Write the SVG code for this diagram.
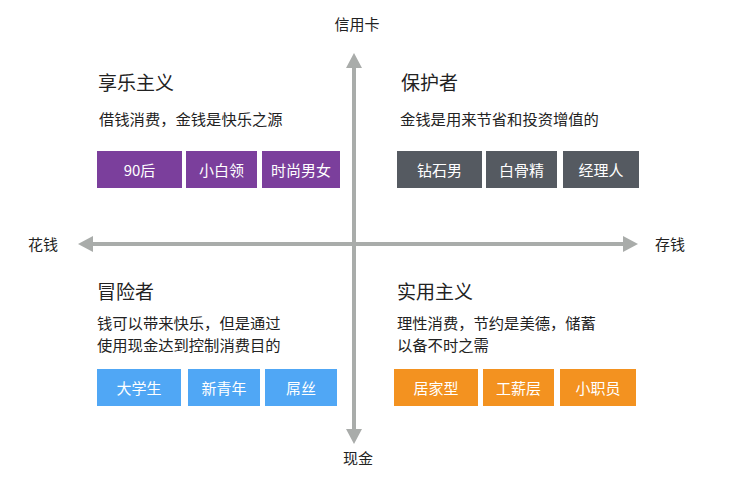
<svg xmlns="http://www.w3.org/2000/svg" width="733" height="487" viewBox="0 0 733 487">
<style>
text{font-family:"Noto Sans CJK SC","Noto Sans",sans-serif;fill:#222}
.ax{font-size:15px}
.t{font-size:19px}
.s{font-size:15.3px}
.b{font-size:15px;fill:#fff;text-anchor:middle;dominant-baseline:central}
.p{fill:#7b3f9c}.g{fill:#555a61}.bl{fill:#50a7f5}.o{fill:#f39220}
.line{stroke:#a9acaa;stroke-width:4;fill:none}
.hd{fill:#a9acaa}
</style>
<rect width="733" height="487" fill="#fff"/>
<g id="axes">
<line class="line" x1="90" y1="244" x2="625" y2="244"/>
<line class="line" x1="354" y1="65" x2="354" y2="432"/>
<polygon class="hd" points="78,244 93,236 93,252"/>
<polygon class="hd" points="638,244 623,236 623,252"/>
<polygon class="hd" points="354,53 346,68 362,68"/>
<polygon class="hd" points="354,444 346,429 362,429"/>
</g>
<g id="labels">
<text class="ax" x="357" y="30" text-anchor="middle">信用卡</text>
<text class="ax" x="358" y="464" text-anchor="middle">现金</text>
<text class="ax" x="28" y="250">花钱</text>
<text class="ax" x="655" y="250">存钱</text>
</g>
<g id="q1">
<text class="t" x="98" y="90">享乐主义</text>
<text class="s" x="99" y="125">借钱消费，金钱是快乐之源</text>
<rect class="p" x="97" y="151" width="85" height="37"/><text class="b" x="139.5" y="169.5">90后</text>
<rect class="p" x="186" y="151" width="71" height="37"/><text class="b" x="221.5" y="169.5">小白领</text>
<rect class="p" x="262" y="151" width="78" height="37"/><text class="b" x="301" y="169.5">时尚男女</text>
</g>
<g id="q2">
<text class="t" x="401" y="90">保护者</text>
<text class="s" x="400" y="125">金钱是用来节省和投资增值的</text>
<rect class="g" x="397" y="151" width="85" height="37"/><text class="b" x="439.5" y="169.5">钻石男</text>
<rect class="g" x="486" y="151" width="71" height="37"/><text class="b" x="521.5" y="169.5">白骨精</text>
<rect class="g" x="563" y="151" width="76" height="37"/><text class="b" x="601" y="169.5">经理人</text>
</g>
<g id="q3">
<text class="t" x="97" y="299">冒险者</text>
<text class="s" x="97" y="329">钱可以带来快乐，但是通过</text>
<text class="s" x="97" y="351">使用现金达到控制消费目的</text>
<rect class="bl" x="97" y="369" width="84" height="37"/><text class="b" x="139" y="387.5">大学生</text>
<rect class="bl" x="188" y="369" width="72" height="37"/><text class="b" x="224" y="387.5">新青年</text>
<rect class="bl" x="265" y="369" width="72" height="37"/><text class="b" x="301" y="387.5">屌丝</text>
</g>
<g id="q4">
<text class="t" x="397" y="299">实用主义</text>
<text class="s" x="397" y="329">理性消费，节约是美德，储蓄</text>
<text class="s" x="397" y="351">以备不时之需</text>
<rect class="o" x="394" y="369" width="84" height="37"/><text class="b" x="436" y="387.5">居家型</text>
<rect class="o" x="483" y="369" width="71" height="37"/><text class="b" x="518.5" y="387.5">工薪层</text>
<rect class="o" x="560" y="369" width="76" height="37"/><text class="b" x="598" y="387.5">小职员</text>
</g>
</svg>
